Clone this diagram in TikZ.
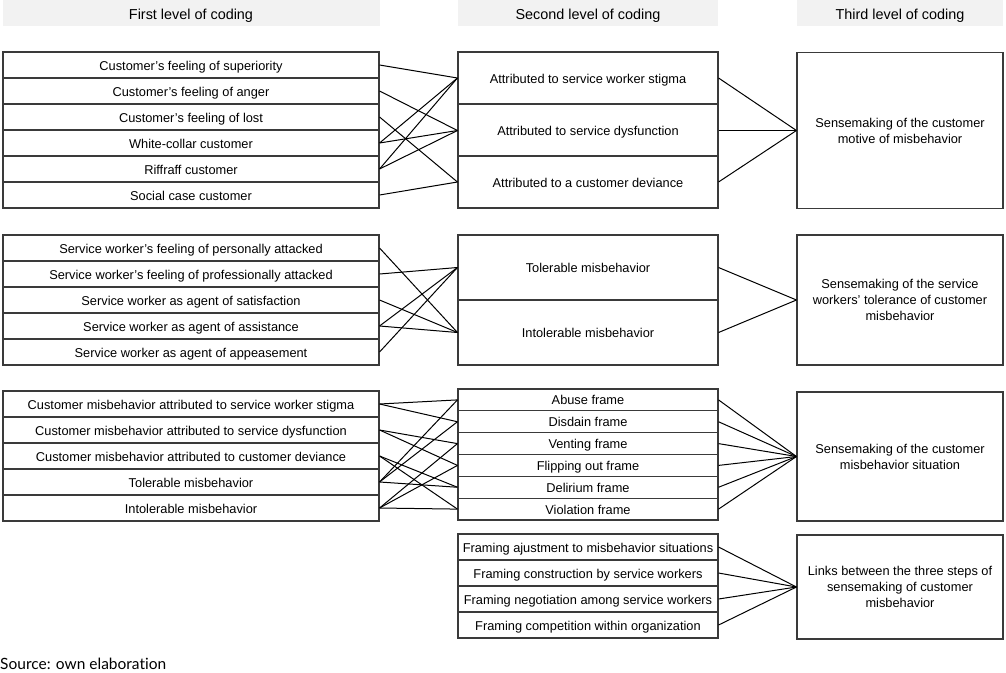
\documentclass[tikz,border=0pt]{standalone}
\usepackage{fontspec}
\setmainfont{Liberation Sans}
\newfontfamily\srcfont[Ligatures={NoCommon,NoContextual}]{Lato}
\definecolor{boxc}{HTML}{3A3A3A}
\definecolor{hdrc}{HTML}{F2F2F2}
\begin{document}
\begin{tikzpicture}[x=1pt,y=-1pt,
  bx/.style={draw=boxc, line width=1.1pt, rectangle, inner sep=0pt, align=center,
    font=\fontsize{12.8}{16}\selectfont},
  one/.style={text height=10.5pt, text depth=0.5pt},
  lbox/.style={bx, one, minimum width=376pt, minimum height=26pt},
  mbox/.style={bx, one, minimum width=260pt, minimum height=#1},
  tbox/.style={bx, minimum width=206pt, minimum height=#1},
  hdr/.style={fill=hdrc, rectangle, inner sep=0pt, minimum height=26pt, text height=12pt, text depth=0pt,
    font=\fontsize{14.4}{17}\selectfont},
  cn/.style={draw=black, line width=1pt}]
\useasboundingbox (0,0) rectangle (1006,672);
% headers
\node[hdr, minimum width=377pt] (h1) at (191,13) {First level of coding};
\node[hdr, minimum width=260pt] (h2) at (588,13) {Second level of coding};
\node[hdr, minimum width=206pt] (h3) at (900,13) {Third level of coding};
% group 1
\node[lbox] (a1) at (191,65) {Customer’s feeling of superiority};
\node[lbox] (a2) at (191,91) {Customer’s feeling of anger};
\node[lbox] (a3) at (191,117) {Customer’s feeling of lost};
\node[lbox] (a4) at (191,143) {White-collar customer};
\node[lbox] (a5) at (191,169) {Riffraff customer};
\node[lbox] (a6) at (191,195) {Social case customer};
\node[mbox=52pt] (am1) at (588,78) {Attributed to service worker stigma};
\node[mbox=52pt] (am2) at (588,130.5) {Attributed to service dysfunction};
\node[mbox=52pt] (am3) at (588,182) {Attributed to a customer deviance};
\node[tbox=156pt] (at) at (900,130.5) {Sensemaking of the customer\\motive of misbehavior};
\foreach \l/\m in {a1/am1,a2/am2,a3/am3,a4/am1,a4/am2,a5/am1,a5/am2,a6/am3}
  \draw[cn] (\l.east) -- (\m.west);
\foreach \m in {am1,am2,am3} \draw[cn] (\m.east) -- (at.west);
% group 2
\node[lbox] (b1) at (191,248) {Service worker’s feeling of personally attacked};
\node[lbox] (b2) at (191,274) {Service worker’s feeling of professionally attacked};
\node[lbox] (b3) at (191,300) {Service worker as agent of satisfaction};
\node[lbox] (b4) at (191,326) {Service worker as agent of assistance};
\node[lbox] (b5) at (191,352) {Service worker as agent of appeasement};
\node[mbox=65pt] (bm1) at (588,267.5) {Tolerable misbehavior};
\node[mbox=65pt] (bm2) at (588,332.5) {Intolerable misbehavior};
\node[tbox=130pt] (bt) at (900,300) {Sensemaking of the service\\workers’ tolerance of customer\\misbehavior};
\foreach \l/\m in {b1/bm2,b2/bm1,b3/bm2,b4/bm1,b4/bm2,b5/bm1}
  \draw[cn] (\l.east) -- (\m.west);
\foreach \m in {bm1,bm2} \draw[cn] (\m.east) -- (bt.west);
% group 3
\node[lbox] (c1) at (191,404) {Customer misbehavior attributed to service worker stigma};
\node[lbox] (c2) at (191,430) {Customer misbehavior attributed to service dysfunction};
\node[lbox] (c3) at (191,456) {Customer misbehavior attributed to customer deviance};
\node[lbox] (c4) at (191,482) {Tolerable misbehavior};
\node[lbox] (c5) at (191,508) {Intolerable misbehavior};
\node[mbox=21.83pt] (cm1) at (588,399.9) {Abuse frame};
\node[mbox=21.83pt] (cm2) at (588,421.75) {Disdain frame};
\node[mbox=21.83pt] (cm3) at (588,443.6) {Venting frame};
\node[mbox=21.83pt] (cm4) at (588,465.4) {Flipping out frame};
\node[mbox=21.83pt] (cm5) at (588,487.25) {Delirium frame};
\node[mbox=21.83pt] (cm6) at (588,509.1) {Violation frame};
\node[tbox=129pt] (ct) at (900,456.5) {Sensemaking of the customer\\misbehavior situation};
\foreach \l/\m in {c1/cm1,c1/cm2,c2/cm3,c2/cm4,c3/cm5,c3/cm6,c4/cm1,c4/cm2,c4/cm5,c5/cm3,c5/cm4,c5/cm6}
  \draw[cn] (\l.east) -- (\m.west);
\foreach \m in {cm1,cm2,cm3,cm4,cm5,cm6} \draw[cn] (\m.east) -- (ct.west);
% group 4
\node[mbox=26pt] (dm1) at (588,547) {Framing ajustment to misbehavior situations};
\node[mbox=26pt] (dm2) at (588,573) {Framing construction by service workers};
\node[mbox=26pt] (dm3) at (588,599) {Framing negotiation among service workers};
\node[mbox=26pt] (dm4) at (588,625) {Framing competition within organization};
\node[tbox=104pt] (dt) at (900,587) {Links between the three steps of\\sensemaking of customer\\misbehavior};
\foreach \m in {dm1,dm2,dm3,dm4} \draw[cn] (\m.east) -- (dt.west);
% source
\node[anchor=base west, inner sep=0pt, font=\srcfont\fontsize{15.5}{18}\selectfont] (src) at (0,669) {Source: own elaboration};
\end{tikzpicture}
\end{document}
